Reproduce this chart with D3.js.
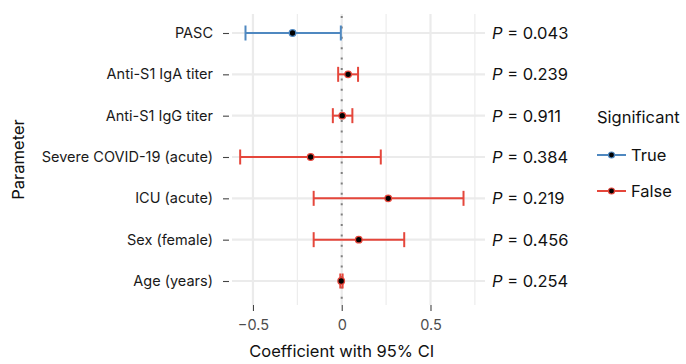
<!DOCTYPE html>
<html><head><meta charset="utf-8">
<script src="https://cdn.jsdelivr.net/npm/d3@7"></script>
<style>body{margin:0;background:#fff;} text{font-family:Inter, "Noto Sans", sans-serif;}</style>
</head><body>
<svg id="c" width="686" height="364"></svg>
<script>
const parameters = ["PASC","Anti-S1 IgA titer","Anti-S1 IgG titer","Severe COVID-19 (acute)","ICU (acute)","Sex (female)","Age (years)"];
const estimates = [-0.277, 0.036, 0.003, -0.175, 0.262, 0.096, -0.003];
const lower     = [-0.542, -0.020, -0.050, -0.572, -0.158, -0.158, -0.008];
const upper     = [-0.005, 0.092, 0.060, 0.220, 0.686, 0.352, 0.005];
const significant = [true, false, false, false, false, false, false];
const pValues   = ["0.043","0.239","0.911","0.384","0.219","0.456","0.254"];
const xTicks = [-0.5, 0, 0.5];
const xMinor = [-0.25, 0.25, 0.75];
const legendLabels = ["True","False"];

const FONT = "Inter, 'Noto Sans', sans-serif";
const colors = {true:"#4f88c0", false:"#e5463b"};
const svg = d3.select("#c");
const panel = {l:232, r:485, t:14, b:305};
const x = d3.scaleLinear().domain([-0.618, 0.807]).range([panel.l, panel.r]);
const y = d3.scalePoint().domain(parameters).range([33, 281]);

// gridlines
const g = svg.append("g");
g.selectAll(".hg").data(parameters).join("line")
  .attr("x1",panel.l).attr("x2",panel.r).attr("y1",d=>y(d)).attr("y2",d=>y(d))
  .attr("stroke","#ebebeb").attr("stroke-width",2.2);
g.selectAll(".vmin").data(xMinor).join("line")
  .attr("x1",d=>x(d)).attr("x2",d=>x(d)).attr("y1",panel.t).attr("y2",panel.b)
  .attr("stroke","#ebebeb").attr("stroke-width",1.1);
g.selectAll(".vmaj").data(xTicks).join("line")
  .attr("x1",d=>x(d)).attr("x2",d=>x(d)).attr("y1",panel.t).attr("y2",panel.b)
  .attr("stroke","#ebebeb").attr("stroke-width",2.2);

// zero dotted line
svg.append("line").attr("x1",x(0)).attr("x2",x(0)).attr("y1",panel.t+2).attr("y2",panel.b)
  .attr("stroke","#808080").attr("stroke-width",2).attr("stroke-dasharray","2,8.4");

// x axis
const xa = svg.append("g").attr("transform",`translate(0,${panel.b})`)
  .call(d3.axisBottom(x).tickValues(xTicks).tickFormat(d=>d===0?"0":d3.format(".1f")(d).replace("-","\u2013")).tickSize(6).tickPadding(9));
xa.select(".domain").remove();
xa.selectAll("line").attr("stroke","#444").attr("stroke-width",1.1);
xa.selectAll("text").attr("font-size",14.5).attr("fill","#4d4d4d").attr("font-family",FONT);

// y axis
const ya = svg.append("g").attr("transform",`translate(${panel.l-3},0)`)
  .call(d3.axisLeft(y).tickSize(6).tickPadding(10));
ya.select(".domain").remove();
ya.selectAll("line").attr("stroke","#444").attr("stroke-width",1.1);
ya.selectAll("text").attr("font-size",14.5).attr("fill","#1a1a1a").attr("font-family",FONT);

// error bars
const rows = parameters.map((p,i)=>({p, est:estimates[i], lo:lower[i], hi:upper[i], sig:significant[i], pv:pValues[i]}));
const eb = svg.append("g");
rows.forEach(d=>{
  const c = colors[d.sig];
  eb.append("line").attr("x1",x(d.lo)).attr("x2",x(d.hi)).attr("y1",y(d.p)).attr("y2",y(d.p)).attr("stroke",c).attr("stroke-width",2);
  [d.lo,d.hi].forEach(v=>{
    eb.append("line").attr("x1",x(v)).attr("x2",x(v)).attr("y1",y(d.p)-7.5).attr("y2",y(d.p)+7.5).attr("stroke",c).attr("stroke-width",2);
  });
  eb.append("circle").attr("cx",x(d.est)).attr("cy",y(d.p)).attr("r",3.3).attr("fill","#000").attr("stroke",c).attr("stroke-width",1.3);
});

// p-values
const pt = svg.append("g");
rows.forEach(d=>{
  const t = pt.append("text").attr("x",492).attr("y",y(d.p)).attr("dy","0.36em").attr("font-size",16.5).attr("fill","#111");
  t.append("tspan").attr("font-style","italic").text("P");
  t.append("tspan").text(" = "+d.pv);
});

// axis titles
svg.append("text").attr("x",x(0)).attr("y",357).attr("text-anchor","middle").attr("font-size",16.5).attr("fill","#111").text("Coefficient with 95% CI");
svg.append("text").attr("transform",`translate(24,${(panel.t+panel.b)/2}) rotate(-90)`).attr("text-anchor","middle").attr("font-size",16.5).attr("fill","#111").text("Parameter");

// legend
const lg = svg.append("g");
lg.append("text").attr("x",597).attr("y",117).attr("dy","0.36em").attr("font-size",16.5).attr("fill","#111").text("Significant");
legendLabels.forEach((lab,i)=>{
  const yy = 155 + i*36;
  const c = colors[lab==="True"];
  lg.append("line").attr("x1",597).attr("x2",626).attr("y1",yy).attr("y2",yy).attr("stroke",c).attr("stroke-width",2);
  lg.append("circle").attr("cx",611.5).attr("cy",yy).attr("r",3).attr("fill","#000").attr("stroke",c).attr("stroke-width",1.2);
  lg.append("text").attr("x",631).attr("y",yy).attr("dy","0.36em").attr("font-size",16.5).attr("fill","#111").text(lab);
});
</script>
</body></html>
